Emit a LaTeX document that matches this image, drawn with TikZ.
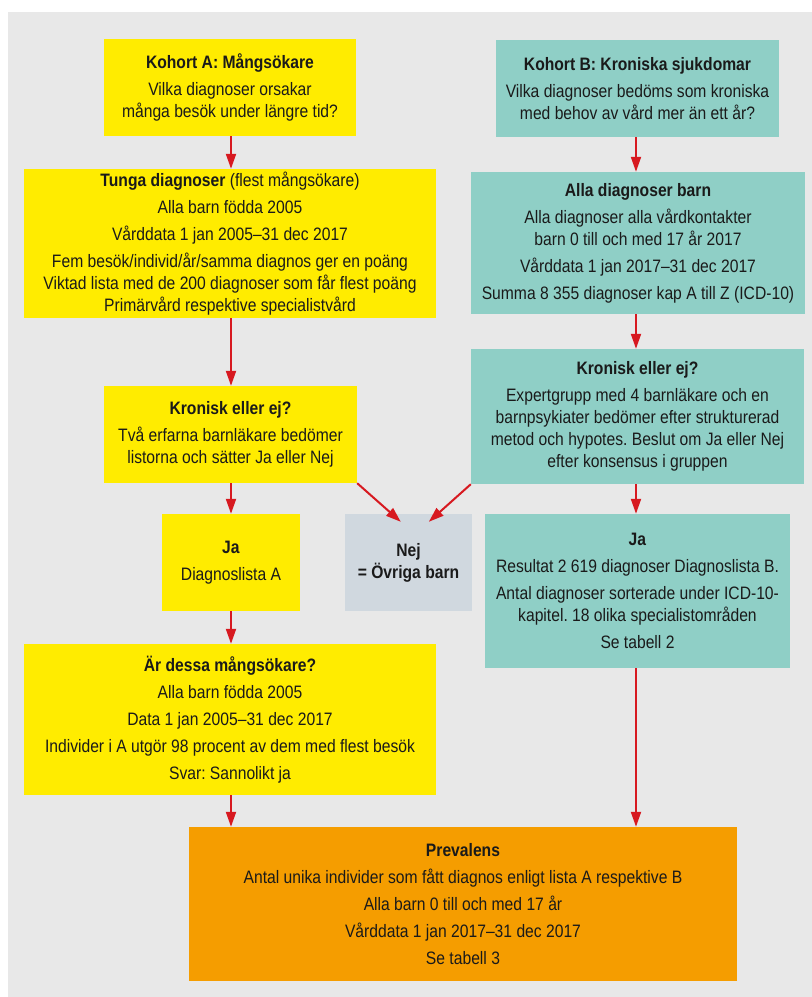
\documentclass[tikz,border=0pt]{standalone}
\usepackage{fontspec}
\setmainfont{Liberation Sans}[FakeStretch=0.87]
\usetikzlibrary{arrows.meta,calc}
\definecolor{bggray}{HTML}{E8E8E8}
\definecolor{boxyellow}{HTML}{FFEC00}
\definecolor{boxteal}{HTML}{8FCFC6}
\definecolor{boxgray}{HTML}{D0D8DF}
\definecolor{boxorange}{HTML}{F59D00}
\definecolor{arrred}{HTML}{D71920}
\definecolor{txt}{HTML}{1A1A1A}
\tikzset{
  box/.style={rectangle, draw=none, inner sep=0pt, align=center, text=txt,
    font=\fontsize{18}{22}\selectfont\frenchspacing},
  ybox/.style={box, fill=boxyellow},
  tbox/.style={box, fill=boxteal},
  gbox/.style={box, fill=boxgray},
  obox/.style={box, fill=boxorange},
  arr/.style={draw=arrred, line width=2pt, -{Triangle[length=15pt,width=10pt]}, arrred},
}
\newcommand{\pgap}{\\[5pt]}
\begin{document}
\frenchspacing
\begin{tikzpicture}[x=1pt,y=-1pt]
\useasboundingbox (0,0) rectangle (812,997);
\fill[white] (0,0) rectangle (812,997);
\fill[bggray] (8,12) rectangle (812,997);
\coordinate (colA) at (231,0);
\coordinate (colB) at (636,0);

% left column
\node[ybox, minimum width=252pt, minimum height=97pt] (kA) at (230,87.5)
  {\textbf{Kohort A: Mångsökare}\pgap Vilka diagnoser orsakar\\ många besök under längre tid?};
\node[ybox, minimum width=412pt, minimum height=149pt] (tunga) at (230,243.5)
  {\textbf{Tunga diagnoser} (flest mångsökare)\pgap Alla barn födda 2005\pgap Vårddata 1 jan 2005–31 dec 2017\pgap Fem besök/individ/år/samma diagnos ger en poäng\\ Viktad lista med de 200 diagnoser som får flest poäng\\ Primärvård respektive specialistvård};
\node[ybox, minimum width=253pt, minimum height=97pt] (kronA) at (230.5,434.5)
  {\textbf{Kronisk eller ej?}\pgap Två erfarna barnläkare bedömer\\ listorna och sätter Ja eller Nej};
\node[ybox, minimum width=138pt, minimum height=97pt] (jaA) at (231,562.5)
  {\textbf{Ja}\pgap Diagnoslista A};
\node[ybox, minimum width=412pt, minimum height=151pt] (arA) at (230,719.5)
  {\textbf{Är dessa mångsökare?}\pgap Alla barn födda 2005\pgap Data 1 jan 2005–31 dec 2017\pgap Individer i A utgör 98 procent av dem med flest besök\pgap Svar: Sannolikt ja};

% right column
\node[tbox, minimum width=283pt, minimum height=97pt] (kB) at (637.5,88.5)
  {\textbf{Kohort B: Kroniska sjukdomar}\pgap Vilka diagnoser bedöms som kroniska\\ med behov av vård mer än ett år?};
\node[tbox, minimum width=334pt, minimum height=142pt] (alla) at (638,243)
  {\textbf{Alla diagnoser barn}\pgap Alla diagnoser alla vårdkontakter\\ barn 0 till och med 17 år 2017\pgap Vårddata 1 jan 2017–31 dec 2017\pgap Summa 8 355 diagnoser kap A till Z (ICD-10)};
\node[tbox, minimum width=333pt, minimum height=135pt] (kronB) at (637.5,416.5)
  {\textbf{Kronisk eller ej?}\pgap Expertgrupp med 4 barnläkare och en\\ barnpsykiater bedömer efter strukturerad\\ metod och hypotes. Beslut om Ja eller Nej\\ efter konsensus i gruppen};
\node[gbox, minimum width=127pt, minimum height=97pt] (nej) at (408.5,562.5)
  {\textbf{Nej}\\ \textbf{= Övriga barn}};
\node[tbox, minimum width=305pt, minimum height=154pt] (jaB) at (637.5,591)
  {\textbf{Ja}\pgap Resultat 2 619 diagnoser Diagnoslista B.\pgap Antal diagnoser sorterade under ICD-10-\\ kapitel. 18 olika specialistområden\pgap Se tabell 2};

% bottom
\node[obox, minimum width=548pt, minimum height=154pt] (prev) at (463,904)
  {\textbf{Prevalens}\pgap Antal unika individer som fått diagnos enligt lista A respektive B\pgap Alla barn 0 till och med 17 år\pgap Vårddata 1 jan 2017–31 dec 2017\pgap Se tabell 3};

% arrows
\draw[arr] (kA.south -| colA) -- (tunga.north -| colA);
\draw[arr] (tunga.south -| colA) -- (kronA.north -| colA);
\draw[arr] (kronA.south -| colA) -- (jaA.north -| colA);
\draw[arr] (jaA.south -| colA) -- (arA.north -| colA);
\draw[arr] (arA.south -| colA) -- (prev.north -| colA);
\draw[arr] (kB.south -| colB) -- (alla.north -| colB);
\draw[arr] (alla.south -| colB) -- (kronB.north -| colB);
\draw[arr] (kronB.south -| colB) -- (jaB.north -| colB);
\draw[arr] (jaB.south -| colB) -- (prev.north -| colB);
\draw[arr] (kronA.south east) -- ($(nej.north west)+(56,8)$);
\draw[arr] (kronB.south west) -- ($(nej.north west)+(84,8)$);
\end{tikzpicture}
\end{document}
